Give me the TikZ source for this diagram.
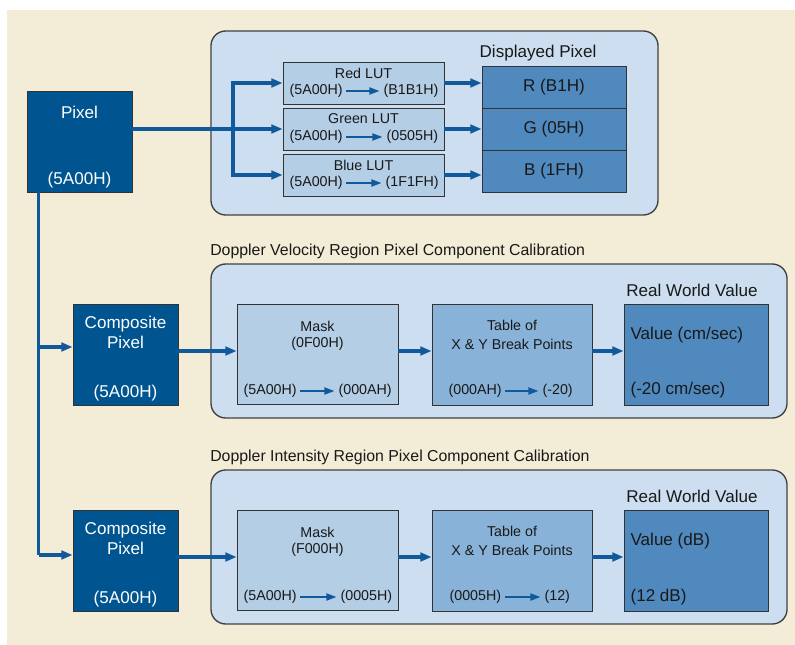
\documentclass[tikz,border=0pt]{standalone}
\usepackage{fontspec}
\setmainfont{Liberation Sans}
\usetikzlibrary{arrows.meta,calc,positioning}
\definecolor{bgbeige}{RGB}{243,236,214}
\definecolor{panelblue}{RGB}{204,222,239}
\definecolor{darkblue}{RGB}{0,85,145}
\definecolor{lightblue}{RGB}{180,206,230}
\definecolor{tableblue}{RGB}{136,178,216}
\definecolor{dispblue}{RGB}{79,137,190}
\definecolor{flowblue}{RGB}{16,90,155}
\definecolor{inktext}{RGB}{25,25,25}
\tikzset{
  panel/.style    = {draw=black!75, line width=1pt, fill=panelblue, rounded corners=11pt},
  darkbox/.style  = {draw=black!80, line width=0.6pt, fill=darkblue, inner sep=0pt,
                     minimum width=78.75pt, minimum height=75.75pt},
  lutbox/.style   = {draw=black!80, line width=0.6pt, fill=lightblue, inner sep=0pt,
                     minimum width=120.75pt, minimum height=31.5pt},
  dispbox/.style  = {draw=black!80, line width=0.6pt, fill=dispblue, inner sep=0pt,
                     minimum width=108pt, minimum height=31.5pt, text=inktext,
                     font=\fontsize{12.8}{15}\selectfont},
  maskbox/.style  = {draw=black!80, line width=0.6pt, fill=lightblue, inner sep=0pt,
                     minimum width=120.75pt, minimum height=75pt},
  tablebox/.style = {draw=black!80, line width=0.6pt, fill=tableblue, inner sep=0pt,
                     minimum width=120pt, minimum height=75.75pt},
  valbox/.style   = {draw=black!80, line width=0.6pt, fill=dispblue, inner sep=0pt,
                     minimum width=108pt, minimum height=75.75pt},
  big/.style      = {font=\fontsize{12.8}{15}\selectfont, inner sep=1pt, text=inktext},
  small/.style    = {font=\fontsize{10.7}{13}\selectfont, inner sep=1pt, text=inktext},
  caption/.style  = {font=\fontsize{11.9}{14}\selectfont, inner sep=0pt, anchor=west, text=inktext},
  flow/.style     = {draw=flowblue, line width=2.5pt, -{Triangle[length=8.5pt,width=6.5pt]}},
  inflow/.style   = {draw=flowblue, line width=2pt, -{Triangle[length=8pt,width=5pt]},
                     shorten <=1.5pt, shorten >=1.5pt},
  wire/.style     = {draw=flowblue, line width=2.5pt},
}
\begin{document}
\begin{tikzpicture}[x=0.75pt,y=-0.75pt]
  \useasboundingbox (0,0) rectangle (795,645);
  \fill[bgbeige] (7,10) rectangle (795,645);

  % panels
  \draw[panel] (211,31) rectangle (658,215);
  \draw[panel] (211,264) rectangle (787,418);
  \draw[panel] (211,470) rectangle (787,624);

  % source pixel
  \node[darkbox] (pixel) at (79.5,141.5) {};
  \node[big,text=white] (pixT) at (79.5,112) {Pixel};
  \node[big,text=white] (pixV) at (79.5,180) {(5A00H)};

  % colour look-up tables
  \node[lutbox] (redlut)   at (363.5,83)  {};
  \node[lutbox] (greenlut) at (363.5,129) {};
  \node[lutbox] (bluelut)  at (363.5,175) {};
  \node[small] (redT)   at (363.5,73)  {Red LUT};
  \node[small] (greenT) at (363.5,119) {Green LUT};
  \node[small] (blueT)  at (363.5,165) {Blue LUT};
  \node[small,anchor=west] (redA)   at (288,91)  {(5A00H)};
  \node[small,anchor=west] (redB)   at (382,91)  {(B1B1H)};
  \node[small,anchor=west] (greenA) at (288,137) {(5A00H)};
  \node[small,anchor=west] (greenB) at (385,137) {(0505H)};
  \node[small,anchor=west] (blueA)  at (288,183) {(5A00H)};
  \node[small,anchor=west] (blueB)  at (384,183) {(1F1FH)};
  \draw[inflow] (redA) -- (redB);
  \draw[inflow] (greenA) -- (greenB);
  \draw[inflow] (blueA) -- (blueB);

  % displayed pixel
  \node[big] (dispT) at (538,53) {Displayed Pixel};
  \node[dispbox] (dispR) at (554,87)  {R (B1H)};
  \node[dispbox] (dispG) at (554,129) {G (05H)};
  \node[dispbox] (dispB) at (554,171) {B (1FH)};

  \coordinate (split) at (233,129);
  \draw[wire] (pixel.east |- split) -- (split);
  \draw[flow] (split) |- (redlut.west);
  \draw[flow] (split) -- (greenlut.west);
  \draw[flow] (split) |- (bluelut.west);
  \draw[flow] (redlut.east) -- (redlut.east -| dispR.west);
  \draw[flow] (greenlut.east) -- (greenlut.east -| dispG.west);
  \draw[flow] (bluelut.east) -- (bluelut.east -| dispB.west);

  % doppler velocity
  \node[caption] (velCap) at (210,251) {Doppler Velocity Region Pixel Component Calibration};
  \node[darkbox] (compA) at (125.5,354.5) {};
  \node[big,text=white] (compAT) at (125.5,324) {Composite};
  \node[big,text=white] (compAP) at (125.5,342) {Pixel};
  \node[big,text=white] (compAV) at (125.5,393) {(5A00H)};
  \node[maskbox] (maskA) at (317.5,354) {};
  \node[small] (maskAT) at (317.5,326) {Mask};
  \node[small] (maskAM) at (317.5,344) {(0F00H)};
  \node[small,anchor=west] (maskAa) at (242,391) {(5A00H)};
  \node[small,anchor=west] (maskAb) at (337,391) {(000AH)};
  \draw[inflow] (maskAa) -- (maskAb);
  \node[tablebox] (tableA) at (512,354.5) {};
  \node[small] (tableAT) at (512,325) {Table of};
  \node[small] (tableAX) at (512,344) {X \& Y Break Points};
  \node[small,anchor=west] (tableAa) at (447,391) {(000AH)};
  \node[small,anchor=west] (tableAb) at (541,391) {(-20)};
  \draw[inflow] (tableAa) -- (tableAb);
  \node[big] (realA) at (692,290) {Real World Value};
  \node[valbox] (valueA) at (696,354.5) {};
  \node[big,anchor=west] (valueAU) at (629,335) {Value (cm/sec)};
  \node[big,anchor=west] (valueAV) at (629,390) {(-20 cm/sec)};

  % doppler intensity
  \node[caption] (intCap) at (210,457) {Doppler Intensity Region Pixel Component Calibration};
  \node[darkbox] (compB) at (125.5,560.5) {};
  \node[big,text=white] (compBT) at (125.5,530) {Composite};
  \node[big,text=white] (compBP) at (125.5,548) {Pixel};
  \node[big,text=white] (compBV) at (125.5,599) {(5A00H)};
  \node[maskbox] (maskB) at (317.5,560) {};
  \node[small] (maskBT) at (317.5,532) {Mask};
  \node[small] (maskBM) at (317.5,550) {(F000H)};
  \node[small,anchor=west] (maskBa) at (242,597) {(5A00H)};
  \node[small,anchor=west] (maskBb) at (339,597) {(0005H)};
  \draw[inflow] (maskBa) -- (maskBb);
  \node[tablebox] (tableB) at (512,560.5) {};
  \node[small] (tableBT) at (512,531) {Table of};
  \node[small] (tableBX) at (512,550) {X \& Y Break Points};
  \node[small,anchor=west] (tableBa) at (448,597) {(0005H)};
  \node[small,anchor=west] (tableBb) at (543,597) {(12)};
  \draw[inflow] (tableBa) -- (tableBb);
  \node[big] (realB) at (692,496) {Real World Value};
  \node[valbox] (valueB) at (696,560.5) {};
  \node[big,anchor=west] (valueBU) at (629,541) {Value (dB)};
  \node[big,anchor=west] (valueBV) at (629,597) {(12 dB)};

  % trunk and stage arrows
  \coordinate (rowA) at (0,351);
  \coordinate (rowB) at (0,557);
  \coordinate (top)  at ($(pixel.south west)+(12,0)$);
  \coordinate (brA)  at (top |- 0,347);
  \coordinate (brB)  at (top |- 0,555);
  \draw[wire] (top) -- (brB);
  \draw[flow] (brA) -- (brA -| compA.west);
  \draw[flow] (brB) -- (brB -| compB.west);
  \draw[flow] (compA.east |- rowA) -- (maskA.west |- rowA);
  \draw[flow] (maskA.east |- rowA) -- (tableA.west |- rowA);
  \draw[flow] (tableA.east |- rowA) -- (valueA.west |- rowA);
  \draw[flow] (compB.east |- rowB) -- (maskB.west |- rowB);
  \draw[flow] (maskB.east |- rowB) -- (tableB.west |- rowB);
  \draw[flow] (tableB.east |- rowB) -- (valueB.west |- rowB);
\end{tikzpicture}
\end{document}
